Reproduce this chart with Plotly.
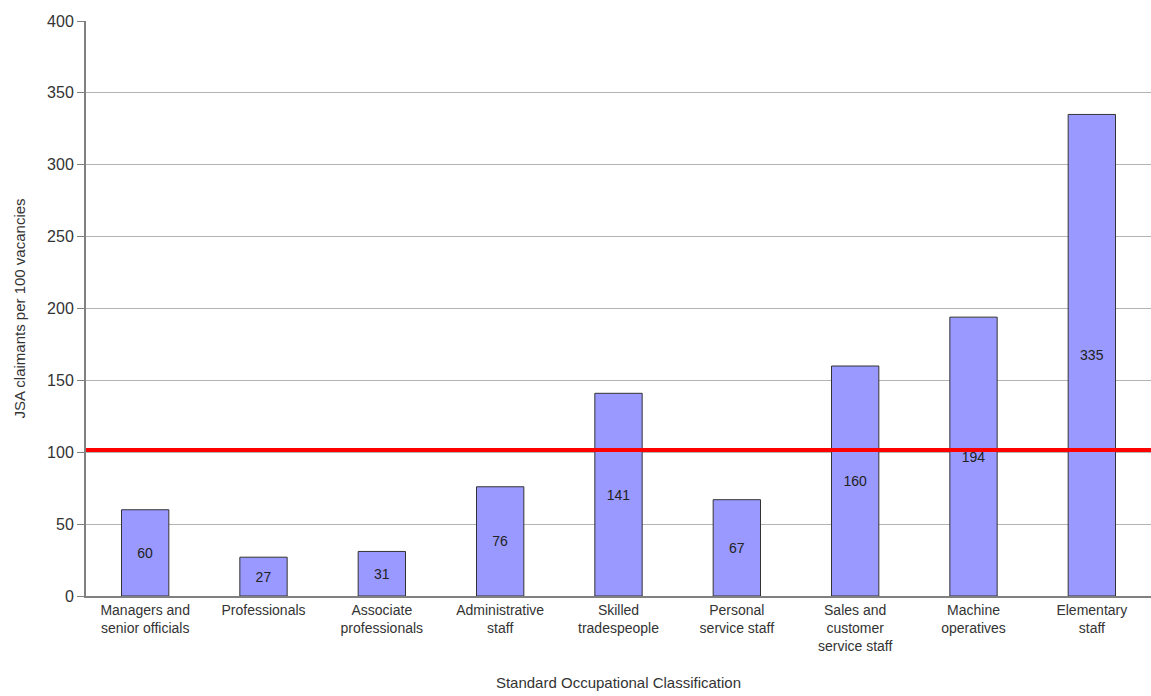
import plotly.graph_objects as go

categories = [
    "Managers and<br>senior officials",
    "Professionals",
    "Associate<br>professionals",
    "Administrative<br>staff",
    "Skilled<br>tradespeople",
    "Personal<br>service staff",
    "Sales and<br>customer<br>service staff",
    "Machine<br>operatives",
    "Elementary<br>staff",
]
values = [60, 27, 31, 76, 141, 67, 160, 194, 335]
reference_level = 101.5
y_ticks = [0, 50, 100, 150, 200, 250, 300, 350, 400]

FONT = "Liberation Sans, Arial, sans-serif"

fig = go.Figure()
fig.add_trace(go.Bar(
    x=categories,
    y=values,
    text=[str(v) for v in values],
    textposition="inside",
    insidetextanchor="middle",
    textfont=dict(family=FONT, size=14, color="#222222"),
    marker=dict(color="#9999ff", line=dict(color="#333333", width=1)),
    width=0.4,
    hoverinfo="x+y",
))

fig.add_shape(type="line", xref="paper", x0=0, x1=1, yref="y",
              y0=reference_level, y1=reference_level,
              line=dict(color="#ff0000", width=4), layer="above")

fig.update_layout(
    width=1151, height=696,
    margin=dict(l=86, r=0, t=21, b=100),
    paper_bgcolor="white", plot_bgcolor="white",
    showlegend=False,
    font=dict(family=FONT, color="#333333"),
    xaxis=dict(
        showline=True, linecolor="#808080", linewidth=2,
        tickfont=dict(family=FONT, size=14, color="#333333"),
        ticks="", showgrid=False,
        title=dict(text="Standard Occupational Classification",
                   font=dict(family=FONT, size=15, color="#333333"),
                   standoff=24),
    ),
    yaxis=dict(
        range=[0, 400], tickvals=y_ticks,
        showline=True, linecolor="#808080", linewidth=2,
        ticks="outside", ticklen=7, tickcolor="#808080", tickwidth=1,
        showgrid=True, gridcolor="#b4b4b4", gridwidth=1,
        zeroline=False,
        tickfont=dict(family=FONT, size=16, color="#333333"),
        title=dict(text="JSA claimants per 100 vacancies",
                   font=dict(family=FONT, size=15, color="#333333"),
                   standoff=18),
    ),
)

fig.write_html("out.html")
